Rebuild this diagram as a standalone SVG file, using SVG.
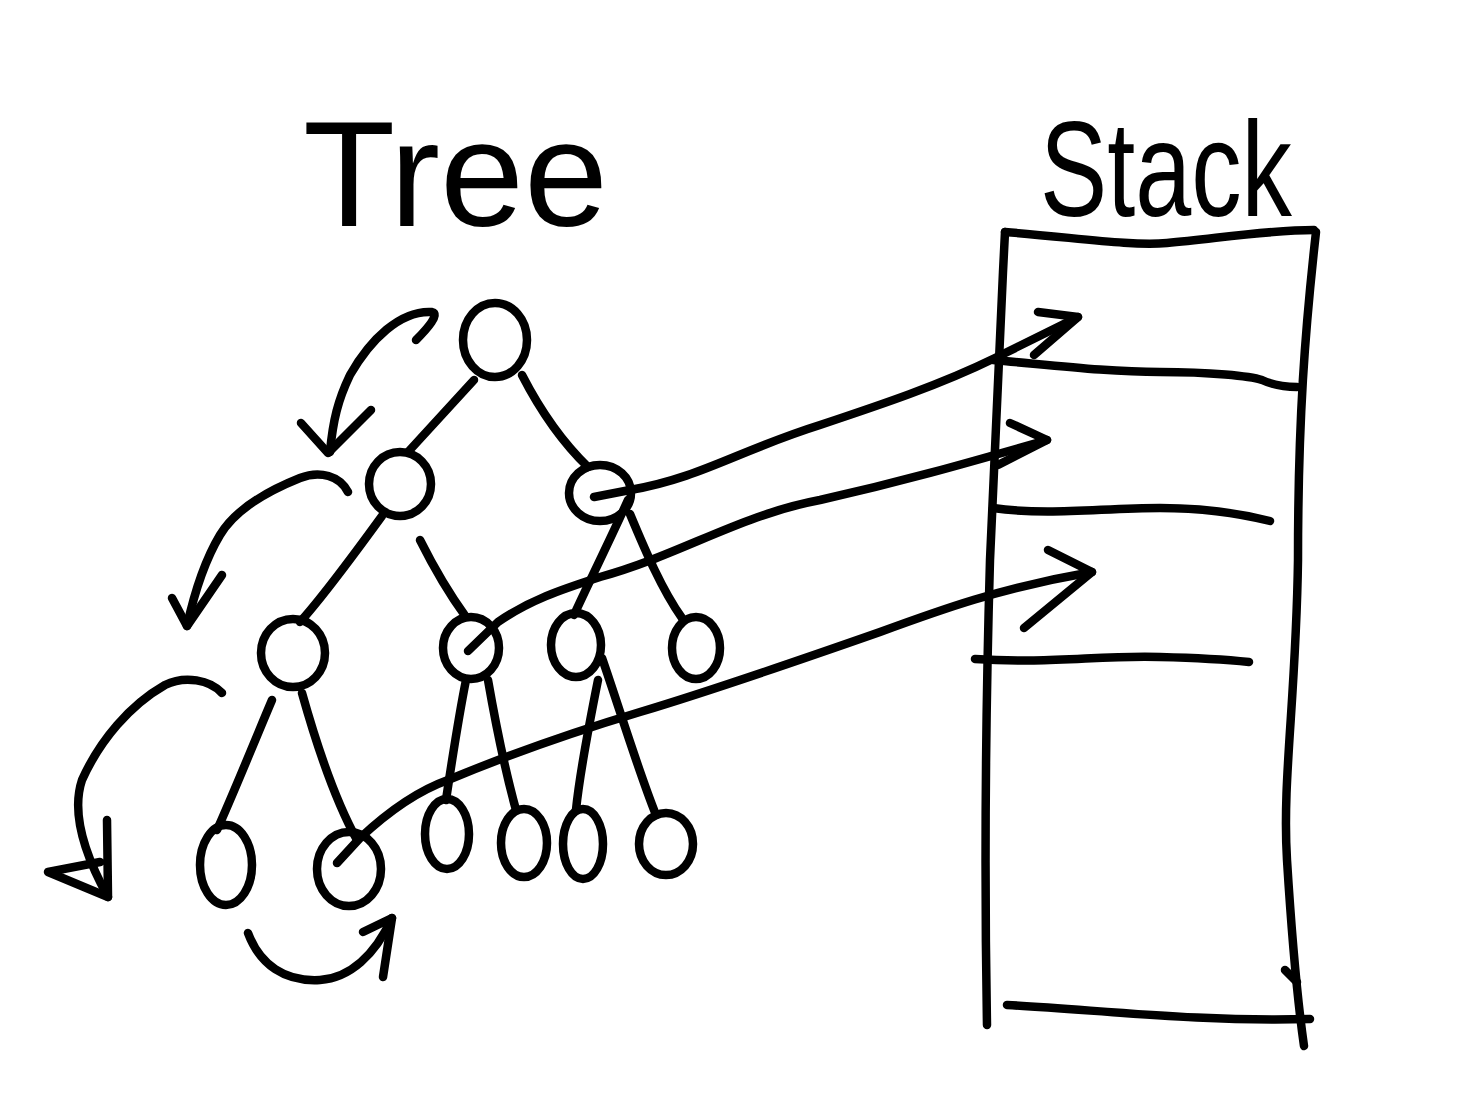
<svg xmlns="http://www.w3.org/2000/svg" width="1472" height="1120" viewBox="0 0 1472 1120">
<style>
.s{fill:none;stroke:#000;stroke-width:8.5;stroke-linecap:round;stroke-linejoin:round}
.n{fill:none;stroke:#000;stroke-width:8.5}
.t{font-family:"Liberation Sans","DejaVu Sans",sans-serif;fill:#000}
</style>
<rect width="1472" height="1120" fill="#fff"/>
<g id="title-tree"><text class="t" x="303" y="226" font-size="150" textLength="305" lengthAdjust="spacingAndGlyphs">Tree</text></g>
<g id="title-stack"><text class="t" x="1040" y="216" font-size="135" textLength="252" lengthAdjust="spacingAndGlyphs">Stack</text></g>

<g id="stack">
<path class="s" d="M1005,232 C1080,238 1130,246 1167,243 C1220,238 1270,230 1314,230"/>
<path class="s" d="M1005,232 C1000,330 996,420 990,560 C986,700 984,860 987,1025"/>
<path class="s" d="M1316,232 C1305,330 1298,420 1298,560 C1296,700 1282,780 1287,860 C1292,940 1296,990 1304,1046"/>
<path class="s" d="M993,360 C1060,366 1110,372 1160,372 C1210,372 1250,376 1262,380 C1275,386 1285,387 1297,387"/>
<path class="s" d="M993,508 C1050,516 1100,508 1160,508 C1210,508 1250,516 1270,521"/>
<path class="s" d="M975,659 C1050,664 1100,655 1160,657 C1200,658 1230,660 1249,662"/>
<path class="s" d="M1007,1005 C1100,1010 1200,1022 1310,1019"/>
<path class="s" d="M1285,970 L1297,982"/>
</g>

<g id="node-root"><ellipse class="n" cx="495" cy="340" rx="32" ry="37"/></g>
<g id="node-l"><ellipse class="n" cx="400" cy="484" rx="31" ry="32"/></g>
<g id="node-r"><ellipse class="n" cx="600" cy="493" rx="31" ry="28"/></g>
<g id="node-ll"><ellipse class="n" cx="293" cy="653" rx="32" ry="34"/></g>
<g id="node-lr"><ellipse class="n" cx="471" cy="648" rx="28" ry="31"/></g>
<g id="node-rl"><ellipse class="n" cx="576" cy="645" rx="25" ry="32"/></g>
<g id="node-rr"><ellipse class="n" cx="696" cy="648" rx="24" ry="31"/></g>
<g id="node-lll"><ellipse class="n" cx="226" cy="865" rx="26" ry="40"/></g>
<g id="node-llr"><ellipse class="n" cx="349" cy="869" rx="32" ry="37"/></g>
<g id="node-lrl"><ellipse class="n" cx="447" cy="834" rx="22" ry="35"/></g>
<g id="node-lrr"><ellipse class="n" cx="524" cy="843" rx="23" ry="34"/></g>
<g id="node-rll"><ellipse class="n" cx="583" cy="844" rx="20" ry="35"/></g>
<g id="node-rlr"><ellipse class="n" cx="666" cy="844" rx="27" ry="31"/></g>

<g id="connectors">
<path class="s" d="M474,380 L408,452"/>
<path class="s" d="M522,375 C540,410 560,440 588,467"/>
<path class="s" d="M382,516 C350,560 320,600 300,622"/>
<path class="s" d="M420,540 C435,570 450,595 466,617"/>
<path class="s" d="M628,500 C610,540 590,580 574,615"/>
<path class="s" d="M630,514 C645,550 662,590 682,618"/>
<path class="s" d="M272,700 C255,740 235,790 217,830"/>
<path class="s" d="M302,693 C318,750 335,800 357,840"/>
<path class="s" d="M466,680 C458,720 452,760 446,800"/>
<path class="s" d="M488,680 C495,720 505,770 516,810"/>
<path class="s" d="M598,680 C590,720 580,770 576,810"/>
<path class="s" d="M602,658 C620,710 638,770 656,815"/>

<path class="s" d="M594,497 L630,490 C700,478 740,450 820,425 C880,405 940,385 995,358 L1078,317"/>
<path class="s" d="M1038,312 L1078,317 L1034,355"/>
<path class="s" d="M468,651 L498,622 C530,600 560,590 600,577 C680,555 740,515 820,500 C900,482 960,465 1047,440"/>
<path class="s" d="M1010,423 L1047,440 L998,465"/>
<path class="s" d="M337,863 L360,838 C390,810 420,790 448,780 C520,750 580,730 640,712 C720,688 800,660 880,632 C940,610 1000,588 1092,572"/>
<path class="s" d="M1048,550 L1092,572 L1024,628"/>

<path class="s" d="M416,340 C428,328 440,314 432,312 C400,310 370,340 350,375 C338,400 333,420 330,452"/>
<path class="s" d="M301,423 L328,453 L371,410"/>
<path class="s" d="M348,492 C340,476 320,470 300,478 C265,492 235,510 220,535 C205,560 195,590 187,626"/>
<path class="s" d="M172,598 L187,626 L222,575"/>
<path class="s" d="M222,693 C210,680 185,675 165,685 C130,705 100,740 82,780 C72,810 82,850 108,897"/>
<path class="s" d="M107,820 L108,897 L48,872 L100,862"/>
<path class="s" d="M248,933 C260,965 285,982 320,980 C350,978 375,955 392,918"/>
<path class="s" d="M363,932 L392,918 L383,977"/>
</g>
</svg>
